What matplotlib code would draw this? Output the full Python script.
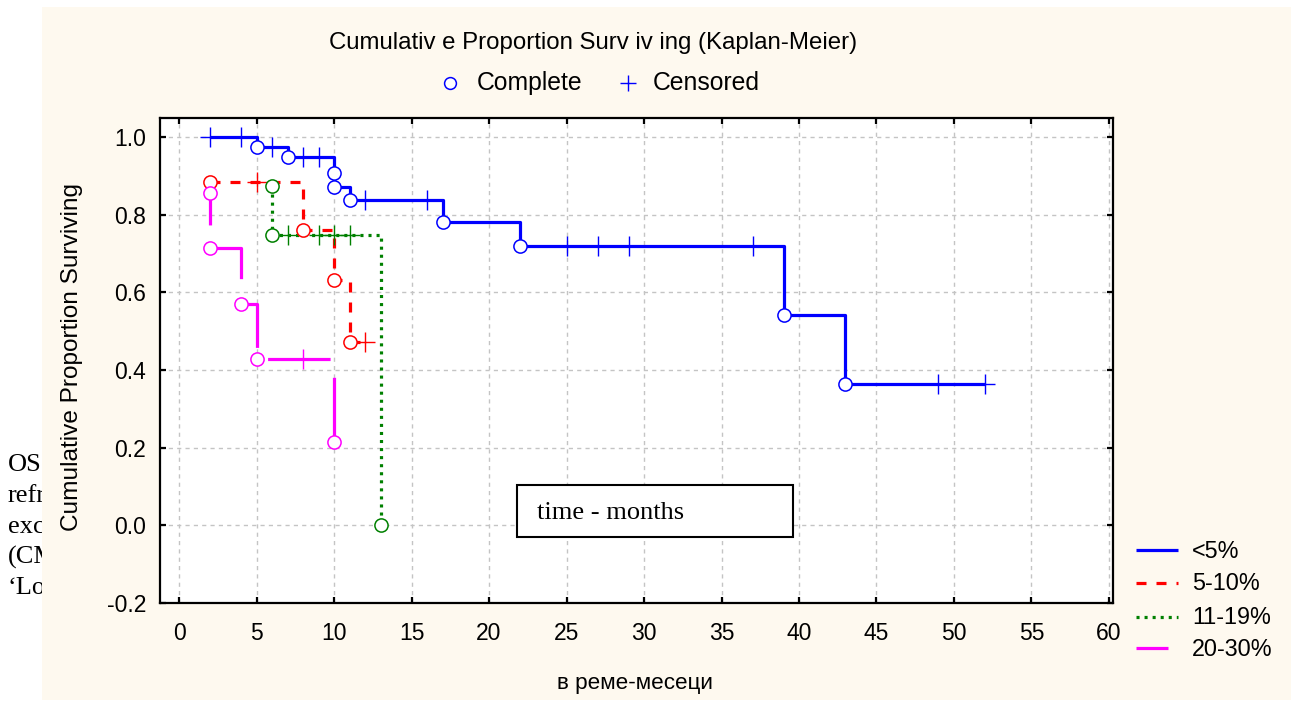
import matplotlib
matplotlib.use("Agg")
import matplotlib.pyplot as plt
from matplotlib.patches import Rectangle
from matplotlib.lines import Line2D
import numpy as np

plt.rcParams['lines.scale_dashes'] = False

# ---------------- data ----------------
group_labels = ["<5%", "5-10%", "11-19%", "20-30%"]

blue_t = [2, 4, 5, 6, 7, 8, 9, 10, 10, 11, 12, 16, 17, 22, 25, 27, 29, 37, 39, 43, 49, 52]
blue_s = [1.0, 1.0, 0.974, 0.974, 0.948, 0.948, 0.948, 0.907, 0.872, 0.838, 0.838, 0.838,
          0.781, 0.720, 0.720, 0.720, 0.720, 0.720, 0.542, 0.363, 0.363, 0.363]
blue_e = [0, 0, 1, 0, 1, 0, 0, 1, 1, 1, 0, 0, 1, 1, 0, 0, 0, 0, 1, 1, 0, 0]

red_t = [2, 5, 8, 10, 11, 12]
red_s = [0.884, 0.884, 0.761, 0.632, 0.473, 0.473]
red_e = [1, 0, 1, 1, 1, 0]

green_t = [6, 6, 7, 9, 10, 11, 13]
green_s = [0.873, 0.748, 0.748, 0.748, 0.748, 0.748, 0.0]
green_e = [1, 1, 0, 0, 0, 0, 1]

mag_t = [2, 2, 4, 5, 8, 10]
mag_s = [0.857, 0.714, 0.571, 0.429, 0.429, 0.214]
mag_e = [1, 1, 1, 1, 0, 1]

x_ticks = list(range(0, 61, 5))
y_ticks = [-0.2, 0.0, 0.2, 0.4, 0.6, 0.8, 1.0]

title_text = "Cumulativ e Proportion Surv iv ing (Kaplan-Meier)"
ylabel_text = "Cumulative Proportion Surviving"
xlabel_text = "в реме-месеци"
box_text = "time - months"
side_lines = ["OS", "refr", "exc", "(CM", "\u2018Lo"]

# ---------------- styles ----------------
W, H = 1298, 701
SANS = "Liberation Sans"
SERIF = "Liberation Serif"
cream = "#FEF9EF"
LW = 2.3
styles = [
    dict(color="#0000FF", ls="-"),
    dict(color="#FF0000", ls=(0, (7.2, 7.2))),
    dict(color="#008000", ls=(0, (2.2, 3.6))),
    dict(color="#FF00FF", ls=(22, (45, 16))),
]

def fx(px):
    return px / W

def fy(py):
    return 1 - py / H

fig = plt.figure(figsize=(W / 100, H / 100), dpi=100)
fig.patch.set_facecolor("white")

# side text (clipped by the cream panel)
for i, s in enumerate(side_lines):
    fig.text(fx(8), fy(465 + i * 30.8), s, family=SERIF, fontsize=19,
             ha="left", va="center", zorder=0.1)

fig.add_artist(Rectangle((fx(42), fy(700)), fx(1291) - fx(42), fy(7) - fy(700),
                         transform=fig.transFigure, facecolor=cream,
                         edgecolor="none", zorder=0.5))

ax = fig.add_axes([fx(160), fy(603), fx(1113) - fx(160), fy(118) - fy(603)])
ax.set_zorder(1)
ax.set_facecolor("white")

xlim = (-1.23, 60.26)
ylim = (-0.198, 1.049)
ax.set_xlim(*xlim)
ax.set_ylim(*ylim)
ax.set_xticks(x_ticks)
ax.set_yticks(y_ticks)
ax.set_xticklabels([str(v) for v in x_ticks])
ax.set_yticklabels([f"{v:.1f}" for v in y_ticks])
ax.tick_params(direction="in", length=4, width=1.6, top=True, right=True,
               labelsize=16.5)
ax.tick_params(axis="x", pad=14)
ax.tick_params(axis="y", pad=10)
for lab in ax.get_xticklabels() + ax.get_yticklabels():
    lab.set_family(SANS)
for sp in ax.spines.values():
    sp.set_linewidth(1.6)

ax.grid(True, color="#c4c4c4", linestyle=(0, (3, 3)), linewidth=1)
ax.set_axisbelow(True)

groups = [(blue_t, blue_s, blue_e), (red_t, red_s, red_e),
          (green_t, green_s, green_e), (mag_t, mag_s, mag_e)]
for (t, s, e), st in zip(groups, styles):
    t = np.array(t, float); s = np.array(s, float); e = np.array(e)
    ax.step(t, s, where="post", color=st["color"], linestyle=st["ls"],
            linewidth=LW, dash_capstyle="butt", solid_capstyle="butt", zorder=3)
    ax.plot(t[e == 0], s[e == 0], linestyle="none", marker="+", markersize=14,
            markeredgewidth=1.0, color=st["color"], zorder=4)
    ax.plot(t[e == 1], s[e == 1], linestyle="none", marker="o", markersize=9.5,
            markerfacecolor="white", markeredgecolor=st["color"],
            markeredgewidth=1.1, zorder=5)

# text box inside the plot
ax.add_patch(Rectangle((fx(517), fy(537)), fx(793) - fx(517), fy(485) - fy(537),
                       transform=fig.transFigure, facecolor="white",
                       edgecolor="black", linewidth=1.5, zorder=6))
fig.text(fx(537), fy(513), box_text, family=SERIF, fontsize=19,
         ha="left", va="center", zorder=7)

# titles and axis labels
fig.text(fx(593), fy(43), title_text, family=SANS, fontsize=17.3,
         ha="center", va="center", zorder=2)
fig.text(fx(72), fy(357), ylabel_text, family=SANS, fontsize=17.6,
         rotation=90, ha="center", va="center", zorder=2)
fig.text(fx(635), fy(684), xlabel_text, family=SANS, fontsize=16.2,
         ha="center", va="center", zorder=2)

# top marker legend
fig.add_artist(Line2D([fx(450)], [fy(83)], transform=fig.transFigure,
                      marker="o", markersize=8.5, markerfacecolor="white",
                      markeredgecolor="#0000FF", markeredgewidth=1.1,
                      linestyle="none", zorder=2))
fig.text(fx(477), fy(83), "Complete", family=SANS, fontsize=17.8,
         ha="left", va="center", zorder=2)
fig.add_artist(Line2D([fx(628)], [fy(83)], transform=fig.transFigure,
                      marker="+", markersize=11, markeredgecolor="#0000FF",
                      markeredgewidth=1.0, linestyle="none", zorder=2))
fig.text(fx(653), fy(83), "Censored", family=SANS, fontsize=17.8,
         ha="left", va="center", zorder=2)

# group legend (bottom right)
leg_y = [550, 583, 617, 648]
leg_x1 = [1178, 1178, 1178, 1168]
for lab, st, yy, x1 in zip(group_labels, styles, leg_y, leg_x1):
    ls = st["ls"]
    if ls != "-" and ls[0] == 22:
        ls = "-"
    fig.add_artist(Line2D([fx(1136), fx(x1)], [fy(yy), fy(yy)],
                          transform=fig.transFigure, color=st["color"],
                          linestyle=ls, linewidth=LW, dash_capstyle="butt",
                          solid_capstyle="butt", zorder=2))
    fig.text(fx(1192), fy(yy + 1), lab, family=SANS, fontsize=16.8,
             ha="left", va="center", zorder=2)

fig.savefig("out.png", dpi=100, facecolor=fig.get_facecolor())
